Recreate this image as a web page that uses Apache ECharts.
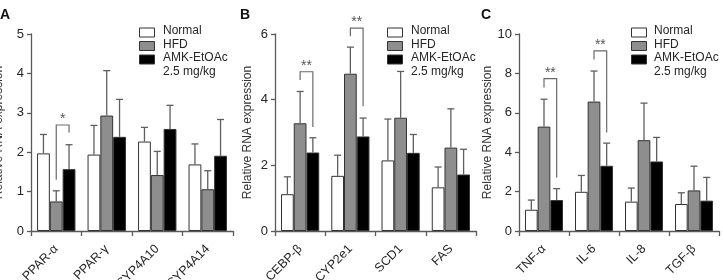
<!DOCTYPE html>
<html><head><meta charset="utf-8">
<script src="https://cdn.jsdelivr.net/npm/echarts@6/dist/echarts.min.js"></script>
<style>html,body{margin:0;padding:0;background:#fff}#c{width:723px;height:280px}</style>
</head><body><div id="c"></div>
<script>
// ---------- data ----------
const seriesNames = ['Normal', 'HFD', 'AMK-EtOAc'];
const doseLabel = '2.5 mg/kg';
const yAxisTitle = 'Relative RNA expression';
const panelLetters = ['A', 'B', 'C'];

const catsA = ['PPAR-α', 'PPAR-γ', 'CYP4A10', 'CYP4A14'];
const normalA = [1.97, 1.94, 2.27, 1.69];
const normalSdA = [0.48, 0.74, 0.36, 0.52];
const hfdA = [0.75, 2.93, 1.42, 1.06];
const hfdSdA = [0.27, 1.14, 0.60, 0.47];
const amkA = [1.57, 2.39, 2.59, 1.91];
const amkSdA = [0.62, 0.95, 0.60, 0.92];
const yMaxA = 5, yStepA = 1;
// brackets: [category, left leg bottom, top, right leg bottom]
const bracketsA = [[0, 1.30, 2.69, 2.50]];
const starsA = ['*'];

const catsB = ['CEBP-β', 'CYP2e1', 'SCD1', 'FAS'];
const normalB = [1.12, 1.68, 2.15, 1.33];
const normalSdB = [0.53, 0.63, 1.26, 0.62];
const hfdB = [3.28, 4.79, 3.45, 2.54];
const hfdSdB = [0.97, 0.81, 1.41, 1.18];
const amkB = [2.39, 2.88, 2.38, 1.72];
const amkSdB = [0.45, 0.56, 0.56, 0.77];
const yMaxB = 6, yStepB = 2;
const bracketsB = [[0, 4.60, 4.85, 3.17], [1, 5.93, 6.18, 3.80]];
const starsB = ['**', '**'];

const catsC = ['TNF-α', 'IL-6', 'IL-8', 'TGF-β'];
const normalC = [1.08, 1.99, 1.49, 1.37];
const normalSdC = [0.49, 0.83, 0.69, 0.57];
const hfdC = [5.30, 6.57, 4.61, 2.06];
const hfdSdC = [1.39, 1.55, 1.88, 1.23];
const amkC = [1.57, 3.31, 3.53, 1.54];
const amkSdC = [0.58, 1.15, 1.22, 1.18];
const yMaxC = 10, yStepC = 2;
const bracketsC = [[0, 7.28, 7.73, 2.72], [1, 8.70, 9.14, 5.00]];
const starsC = ['**', '**'];

// ---------- build ----------
const panels = [
  {cats: catsA, vals: [normalA, hfdA, amkA], sds: [normalSdA, hfdSdA, amkSdA], max: yMaxA, step: yStepA, br: bracketsA, st: starsA},
  {cats: catsB, vals: [normalB, hfdB, amkB], sds: [normalSdB, hfdSdB, amkSdB], max: yMaxB, step: yStepB, br: bracketsB, st: starsB},
  {cats: catsC, vals: [normalC, hfdC, amkC], sds: [normalSdC, hfdSdC, amkSdC], max: yMaxC, step: yStepC, br: bracketsC, st: starsC}
];
const layout = [
  {left: 31, width: 202, nameGap: 26, legLeft: 139, txtLeft: 163, letterX: 0},
  {left: 275, width: 201, nameGap: 21, legLeft: 387, txtLeft: 411, letterX: 240},
  {left: 519, width: 200, nameGap: 24, legLeft: 631, txtLeft: 654, letterX: 481}
];
const fills = ['#ffffff', '#8e8e8e', '#000000'];
const GAP = 0.24;
const axisCol = '#5a5a5a';
const txtCol = '#262626';
const FONT = 'Liberation Sans, Arial, sans-serif';

const grid = [], xAxis = [], yAxis = [], series = [], graphic = [];

function errRender(params, api) {
  const cat = api.value(0), k = api.value(1), v = api.value(2), sd = api.value(3);
  const base = api.coord([cat, v]);
  const top = api.coord([cat, v + sd]);
  const bw = api.size([1, 0])[0] * (1 - GAP) / 3;
  const x = base[0] + (k - 1) * bw;
  const st = {stroke: '#5f5f5f', lineWidth: 1.3};
  return {type: 'group', children: [
    {type: 'line', shape: {x1: x, y1: base[1], x2: x, y2: top[1]}, style: st},
    {type: 'line', shape: {x1: x - 3.5, y1: top[1], x2: x + 3.5, y2: top[1]}, style: st}
  ]};
}
function makeBracketRender(stars) {
  return function (params, api) {
    const cat = api.value(0);
    const lb = api.coord([cat, api.value(1)]);
    const tp = api.coord([cat, api.value(2)]);
    const rb = api.coord([cat, api.value(3)]);
    const bw = api.size([1, 0])[0] * (1 - GAP) / 3;
    const xl = lb[0], xr = lb[0] + bw;
    return {type: 'group', children: [
      {type: 'polyline', shape: {points: [[xl, lb[1]], [xl, tp[1]], [xr, tp[1]], [xr, rb[1]]]},
        style: {stroke: '#6a6a6a', lineWidth: 1.2, fill: null}},
      {type: 'text', x: (xl + xr) / 2, y: tp[1] + 1,
        style: {text: stars[params.dataIndex], fill: '#555', font: '14px ' + FONT, align: 'center', verticalAlign: 'bottom'}}
    ]};
  };
}

panels.forEach((p, i) => {
  const L = layout[i];
  grid.push({left: L.left, width: L.width, top: 34, bottom: 49, containLabel: false, outerBoundsMode: 'none'});
  xAxis.push({
    type: 'category', gridIndex: i, data: p.cats,
    axisLine: {lineStyle: {color: axisCol, width: 1.3}},
    axisTick: {show: true, length: 5, lineStyle: {color: axisCol, width: 1.3}},
    axisLabel: {rotate: 45, margin: 16, fontSize: 12.5, color: txtCol, fontFamily: FONT, interval: 0}
  });
  yAxis.push({
    type: 'value', gridIndex: i, min: 0, max: p.max, interval: p.step,
    name: yAxisTitle, nameLocation: 'middle', nameGap: L.nameGap,
    nameTextStyle: {fontSize: 12, color: '#333', fontFamily: FONT},
    axisLine: {show: true, lineStyle: {color: axisCol, width: 1.3}},
    axisTick: {show: true, length: 4, lineStyle: {color: axisCol, width: 1.3}},
    axisLabel: {fontSize: 13, color: txtCol, margin: 7, fontFamily: FONT},
    splitLine: {show: false}
  });
  seriesNames.forEach((nm, k) => {
    series.push({
      type: 'bar', name: nm, xAxisIndex: i, yAxisIndex: i, data: p.vals[k],
      barGap: '0%', barCategoryGap: (GAP * 100) + '%',
      itemStyle: {color: fills[k], borderColor: '#333', borderWidth: 1},
      emphasis: {disabled: true}, animation: false
    });
  });
  const errData = [];
  p.cats.forEach((c, ci) => { for (let k = 0; k < 3; k++) errData.push([ci, k, p.vals[k][ci], p.sds[k][ci]]); });
  series.push({type: 'custom', xAxisIndex: i, yAxisIndex: i, data: errData, encode: {x: 0, y: 2},
    renderItem: errRender, clip: false, z: 5, animation: false, silent: true});
  series.push({type: 'custom', xAxisIndex: i, yAxisIndex: i, data: p.br, encode: {x: 0, y: 2},
    renderItem: makeBracketRender(p.st), clip: false, z: 6, animation: false, silent: true});
  // legend drawn as graphic rows (one per series) + dose line
  const rowY = [32, 45.5, 59, 72.5];
  seriesNames.forEach((nm, k) => {
    graphic.push({type: 'rect', left: L.legLeft, top: rowY[k] - 4.5,
      shape: {width: 15, height: 9}, style: {fill: fills[k], stroke: '#333', lineWidth: 1}});
    graphic.push({type: 'text', left: L.txtLeft, top: rowY[k] - 7,
      style: {text: nm, font: '12px ' + FONT, fill: txtCol}});
  });
  graphic.push({type: 'text', left: L.txtLeft, top: rowY[3] - 7,
    style: {text: doseLabel, font: '12px ' + FONT, fill: txtCol}});
  graphic.push({type: 'text', left: L.letterX, top: 8,
    style: {text: panelLetters[i], font: 'bold 14px ' + FONT, fill: '#111'}});
});

const chart = echarts.init(document.getElementById('c'), null, {renderer: 'canvas'});
chart.setOption({animation: false, grid, xAxis, yAxis, series, graphic});
</script></body></html>
